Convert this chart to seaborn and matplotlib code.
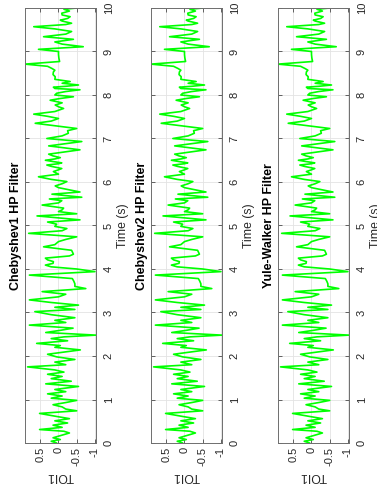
import matplotlib
matplotlib.use("Agg")
import matplotlib.pyplot as plt
import seaborn as sns

# High-pass filtered TOI1 channel (amplitude) against time in seconds
time_s = [
    0.00, 0.04, 0.08, 0.12, 0.18, 0.23, 0.27, 0.31, 0.36, 0.41,
    0.46, 0.51, 0.56, 0.61, 0.68, 0.74, 0.78, 0.83, 0.88, 0.93,
    0.98, 1.03, 1.08, 1.13, 1.18, 1.23, 1.30, 1.36, 1.42, 1.48,
    1.53, 1.58, 1.63, 1.68, 1.75, 1.80, 1.86, 1.92, 1.98, 2.04,
    2.09, 2.14, 2.20, 2.24, 2.29, 2.35, 2.40, 2.44, 2.48, 2.54,
    2.59, 2.64, 2.71, 2.77, 2.82, 2.88, 2.95, 3.02, 3.07, 3.12,
    3.17, 3.23, 3.29, 3.36, 3.42, 3.48, 3.55, 3.60, 3.66, 3.72,
    3.78, 3.86, 3.94, 4.00, 4.05, 4.09, 4.13, 4.17, 4.21, 4.25,
    4.30, 4.34, 4.43, 4.51, 4.56, 4.63, 4.68, 4.74, 4.82, 4.88,
    4.93, 4.98, 5.03, 5.08, 5.13, 5.22, 5.27, 5.32, 5.36, 5.40,
    5.47, 5.52, 5.57, 5.61, 5.65, 5.72, 5.77, 5.83, 5.87, 5.91,
    5.96, 6.01, 6.06, 6.12, 6.18, 6.24, 6.28, 6.31, 6.36, 6.39,
    6.42, 6.44, 6.47, 6.50, 6.53, 6.56, 6.60, 6.64, 6.74, 6.83,
    6.93, 7.00, 7.06, 7.12, 7.18, 7.23, 7.35, 7.40, 7.46, 7.51,
    7.56, 7.62, 7.69, 7.73, 7.77, 7.82, 7.88, 7.92, 7.96, 8.00,
    8.04, 8.08, 8.12, 8.15, 8.18, 8.20, 8.23, 8.27, 8.31, 8.36,
    8.42, 8.47, 8.53, 8.57, 8.61, 8.66, 8.71, 8.77, 8.85, 8.93,
    9.00, 9.05, 9.11, 9.17, 9.22, 9.28, 9.34, 9.40, 9.46, 9.52,
    9.57, 9.62, 9.65, 9.70, 9.72, 9.76, 9.80, 9.84, 9.88, 9.93,
    9.97, 10.00,
]
toi1_hp = [
    0.05, 0.20, -0.05, 0.15, -0.10, -0.30, -0.15, 0.52, -0.10, 0.15,
    -0.25, 0.10, -0.30, 0.05, 0.52, -0.50, -0.20, -0.10, 0.15, -0.20,
    -0.50, 0.20, -0.10, 0.30, -0.20, 0.10, -0.55, 0.35, -0.35, 0.20,
    -0.10, 0.30, -0.15, 0.10, 0.85, -0.20, 0.10, -0.45, 0.05, 0.30,
    -0.15, -0.60, 0.10, -0.05, 0.60, -0.25, 0.20, -0.15, -1.03, 0.35,
    -0.05, -0.40, 0.80, -0.20, 0.10, -0.45, 0.20, 0.65, -0.45, 0.10,
    -0.55, 0.20, 0.80, 0.00, -0.20, 0.45, -0.75, -0.45, -0.45, -0.42,
    -0.38, 0.80, -1.00, -0.50, 0.20, 0.36, 0.15, 0.14, 0.30, 0.36,
    -0.30, -0.41, -0.36, 0.41, 0.10, 0.00, -0.20, -0.50, 0.82, -0.10,
    -0.23, 0.10, 0.05, 0.30, -0.59, 0.59, -0.50, 0.00, -0.10, -0.14,
    0.45, 0.00, -0.09, 0.25, -0.64, 0.18, -0.59, -0.23, 0.00, 0.09,
    -0.10, -0.23, 0.20, 0.55, 0.00, 0.14, 0.00, -0.09, 0.20, 0.32,
    0.00, -0.09, 0.15, 0.36, 0.10, -0.05, 0.15, 0.27, -0.59, 0.27,
    -0.64, 0.32, -0.10, -0.27, -0.25, -0.50, 0.64, 0.20, 0.00, 0.30,
    0.68, 0.10, -0.14, 0.00, 0.09, -0.10, 0.23, -0.05, -0.41, 0.10,
    0.05, -0.20, -0.59, 0.10, 0.14, -0.20, -0.55, -0.10, -0.32, 0.10,
    0.09, 0.15, 0.14, 0.10, 0.18, 0.30, 0.92, -0.03, -0.01, 0.00,
    0.00, 0.55, -0.68, -0.10, 0.10, -0.41, 0.41, -0.20, -0.36, 0.10,
    0.68, -0.20, -0.36, -0.10, -0.05, -0.25, -0.32, -0.10, -0.09, -0.30,
    -0.15, -0.50,
]

filter_titles = ["Chebyshev1 HP Filter", "Chebyshev2 HP Filter", "Yule-Walker HP Filter"]
time_ticks = list(range(11))
amp_ticks = [0.5, 0, -0.5, -1]
amp_tick_labels = ["0.5", "0", "-0.5", "-1"]
channel_label = "TOI1"
time_label = "Time (s)"

sns.set_theme(style="white")
plt.rcParams["font.family"] = ["Liberation Sans", "DejaVu Sans"]

text_color = "#262626"
W, H = 377, 494
fig = plt.figure(figsize=(W / 100, H / 100), dpi=100)
fig.patch.set_facecolor("white")

# panel geometry in pixels (left edge, width); time runs bottom -> top
col_left_px = [25, 151, 278]
ax_w_px, ax_bottom_px, ax_h_px = 71, 51, 435

for left_px, title in zip(col_left_px, filter_titles):
    ax = fig.add_axes([left_px / W, ax_bottom_px / H, ax_w_px / W, ax_h_px / H])
    ax.set_axisbelow(True)
    sns.lineplot(x=toi1_hp, y=time_s, orient="y", sort=False, estimator=None,
                 color="#00ff00", linewidth=1.2, ax=ax)

    ax.set_xlim(max(toi1_hp), min(toi1_hp))
    ax.set_ylim(0, 10)
    ax.set_xticks(amp_ticks)
    ax.set_xticklabels(amp_tick_labels)
    ax.set_yticks(time_ticks)
    ax.set_yticklabels([str(t) for t in time_ticks])

    ax.grid(True, color="#e3e3e3", linewidth=0.6)
    for sp in ax.spines.values():
        sp.set_color("#6e6e6e")
        sp.set_linewidth(0.7)

    ax.tick_params(direction="in", length=3, width=0.6, color="#4a4a4a",
                   top=True, bottom=True, left=True, right=True,
                   labelleft=False, labelright=True, labelsize=8,
                   labelcolor=text_color)
    ax.tick_params(axis="y", pad=5.5)
    ax.tick_params(axis="x", pad=3)
    for lab in ax.get_yticklabels():
        lab.set_rotation(90)
        lab.set_va("center")
        lab.set_ha("left")
    for lab in ax.get_xticklabels():
        lab.set_rotation(90)
        lab.set_ha("center")
        lab.set_va("top")

    ax.yaxis.set_label_position("right")
    ax.set_ylabel(time_label, fontsize=8.8, color=text_color, rotation=90)
    ax.yaxis.set_label_coords(1 + 21 / ax_w_px, 0.5)

    ax.set_xlabel(channel_label, fontsize=8.8, color=text_color, rotation=180)
    ax.xaxis.set_label_coords(0.5, -27 / ax_h_px)

    ax.text(-3 / ax_w_px, 0.5, title, transform=ax.transAxes, rotation=90,
            ha="right", va="center", fontsize=9, fontweight="bold",
            color="black")

fig.savefig("out.png", dpi=100, facecolor="white")
